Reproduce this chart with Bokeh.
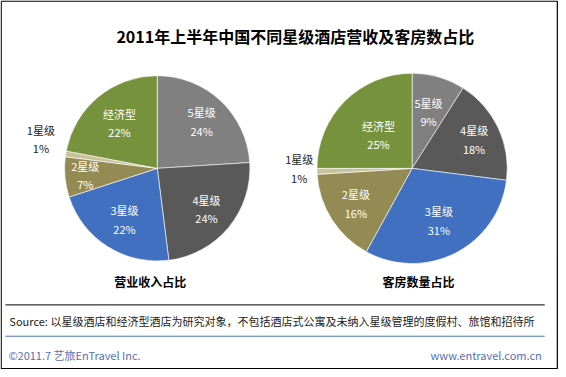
import math
from bokeh.plotting import figure
from bokeh.models import Range1d, ColumnDataSource
from bokeh.core.properties import value
from bokeh.embed import file_html
from bokeh.resources import INLINE

# ---------------- data ----------------
title = "2011年上半年中国不同星级酒店营收及客房数占比"
categories = ["5星级", "4星级", "3星级", "2星级", "1星级", "经济型"]
revenue_share = [24, 24, 22, 7, 1, 22]      # 营业收入占比 (%)
rooms_share = [9, 18, 31, 16, 1, 25]        # 客房数量占比 (%)
revenue_title = "营业收入占比"
rooms_title = "客房数量占比"
source_text = "Source: 以星级酒店和经济型酒店为研究对象，不包括酒店式公寓及未纳入星级管理的度假村、旅馆和招待所"
footer_left = "©2011.7 艺旅EnTravel Inc."
footer_right = "www.entravel.com.cn"

# ---------------- style ----------------
colors = ["#808080", "#595959", "#4170C0", "#948A54", "#C9C19B", "#76923C"]
FONT = "Noto Sans CJK SC"
W, H = 558, 369
PW, PH = 566, 377   # reference coordinate space


def Y(py):
    # reference pixel y (down) -> data y (up)
    return PH - py


p = figure(width=W, height=H, output_backend="svg", toolbar_location=None,
           x_range=Range1d(0, PW), y_range=Range1d(0, PH),
           min_border=0, outline_line_color=None)
p.axis.visible = False
p.grid.visible = False
p.background_fill_color = "white"
p.border_fill_color = "white"

# frame
p.line(x=[0.7, 564.8, 564.8, 0.7, 0.7], y=[Y(0.7), Y(0.7), Y(376.2), Y(376.2), Y(0.7)],
       line_color="black", line_width=1.2)

# title
p.text(x=[299], y=[Y(36)], text=[title], text_font=value(FONT),
       text_font_size=value("16px"), text_font_style="bold",
       text_align="center", text_baseline="middle", text_color="#000000")


def draw_pie(shares, cx, cy, R, label_fracs, outside, subtitle, sub_xy):
    starts, ends, lx, ly = [], [], [], []
    cum = 0.0
    for s, frac in zip(shares, label_fracs):
        a0 = math.pi / 2 - 2 * math.pi * cum / 100.0
        cum += s
        a1 = math.pi / 2 - 2 * math.pi * cum / 100.0
        starts.append(a0)
        ends.append(a1)
        mid = (a0 + a1) / 2
        lx.append(cx + frac * R * math.cos(mid))
        ly.append(Y(cy) + frac * R * math.sin(mid))
    src = ColumnDataSource(dict(start=starts, end=ends, color=colors))
    p.wedge(x=cx, y=Y(cy), radius=R, start_angle="start", end_angle="end",
            direction="clock", fill_color="color", line_color="white",
            line_width=0.6, source=src)
    names, pcts, nx, ny, px_, py_, tcol = [], [], [], [], [], [], []
    for i, (c, s) in enumerate(zip(categories, shares)):
        x0, y0 = lx[i], ly[i]
        if i == outside[0]:
            x0, y0 = outside[1], Y(outside[2])
            col = "#222222"
        else:
            col = "#FFFFFF"
        names.append(c)
        pcts.append(f"{s}%")
        nx.append(x0)
        ny.append(y0 + 9.5)
        px_.append(x0)
        py_.append(y0 - 9.5)
        tcol.append(col)
    p.text(x=nx, y=ny, text=names, text_color=tcol, text_font=value(FONT),
           text_font_size=value("11px"), text_align="center", text_baseline="middle")
    p.text(x=px_, y=py_, text=pcts, text_color=tcol, text_font=value(FONT),
           text_font_size=value("11px"), text_align="center", text_baseline="middle")
    p.text(x=[sub_xy[0]], y=[Y(sub_xy[1])], text=[subtitle], text_font=value(FONT),
           text_font_size=value("12px"), text_font_style="bold",
           text_align="center", text_baseline="middle", text_color="#000000")


draw_pie(revenue_share, 159, 171.5, 94,
         [0.70, 0.69, 0.66, 0.78, 1.2, 0.64], (4, 41, 141.5),
         revenue_title, (152, 287))
draw_pie(rooms_share, 417.5, 171.5, 96.5,
         [0.62, 0.72, 0.62, 0.70, 1.2, 0.50], (4, 303, 171.5),
         rooms_title, (424, 287))

# bottom lines and texts
p.line(x=[5, 552], y=[Y(311), Y(311)], line_color="#000000", line_width=1)
p.text(x=[9], y=[Y(327)], text=[source_text], text_font=value(FONT),
       text_font_size=value("11px"), text_align="left", text_baseline="middle",
       text_color="#222222")
p.line(x=[5, 552], y=[Y(343), Y(343)], line_color="#4A74B8", line_width=1)
p.text(x=[8], y=[Y(362)], text=[footer_left], text_font=value(FONT),
       text_font_size=value("11px"), text_align="left", text_baseline="middle",
       text_color="#5A70B0")
p.text(x=[549], y=[Y(362)], text=[footer_right], text_font=value(FONT),
       text_font_size=value("11px"), text_align="right", text_baseline="middle",
       text_color="#5A70B0")

open("out.html", "w").write(file_html(p, INLINE))
